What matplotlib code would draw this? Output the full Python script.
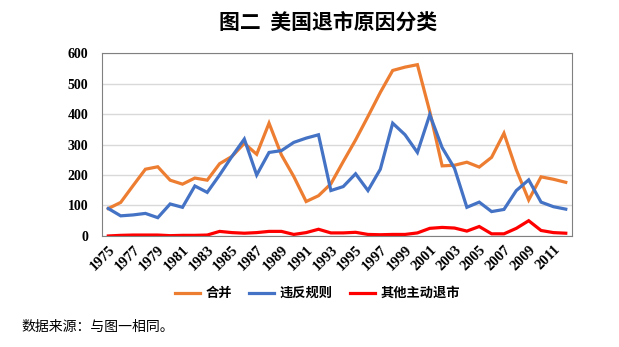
import matplotlib
matplotlib.use("Agg")
import matplotlib.pyplot as plt

plt.rcParams["font.family"] = ["Noto Sans CJK SC", "DejaVu Sans"]

years = list(range(1975, 2013))
merger = [90, 110, 165, 219, 227, 183, 170, 190, 183, 237, 261, 304, 268, 370,
          266, 195, 113, 132, 171, 244, 315, 392, 471, 543, 554, 562, 408, 230,
          232, 242, 226, 258, 337, 217, 118, 194, 186, 176]
violation = [90, 66, 69, 74, 60, 105, 94, 164, 143, 200, 261, 318, 200, 274,
             280, 307, 321, 332, 149, 162, 204, 149, 219, 370, 332, 274, 398,
             290, 222, 94, 111, 80, 87, 149, 184, 111, 96, 88]
voluntary = [0, 2, 3, 3, 3, 1, 2, 2, 3, 15, 11, 9, 11, 15, 15, 5, 11, 22, 10,
             10, 12, 5, 4, 5, 5, 10, 25, 28, 26, 16, 31, 7, 7, 25, 50, 18, 11, 9]

series_names = ["合并", "违反规则", "其他主动退市"]
colors = ["#ED7D31", "#4472C4", "#FF0000"]

fig = plt.figure(figsize=(6.19, 3.47), dpi=100)
ax = fig.add_axes([0.165, 0.320, 0.759, 0.527])

x = range(len(years))
for vals, name, c in zip([merger, violation, voluntary], series_names, colors):
    ax.plot(x, vals, color=c, linewidth=2.3, label=name, solid_joinstyle="miter")

# Aesthetics
ax.set_xlim(-0.5, len(years) - 0.5)
ax.set_ylim(0, 600)
ax.set_yticks(range(0, 601, 100))
ax.grid(axis="y", color="#D9D9D9", linewidth=1)
ax.set_axisbelow(True)
for s in ax.spines.values():
    s.set_color("#808080")
ax.tick_params(axis="y", length=0, pad=10)
ax.tick_params(axis="x", length=0, pad=5)
for lbl in ax.get_yticklabels():
    lbl.set_fontfamily("Liberation Serif")
    lbl.set_fontweight("bold")
    lbl.set_fontsize(10)

ax.set_xticks(list(x)[::2])
ax.set_xticklabels(
    [str(y) for y in years[::2]],
    rotation=45,
    ha="right",
    rotation_mode="anchor",
    fontsize=10.5,
    fontweight="bold",
    fontfamily="Liberation Serif",
)

fig.text(0.53, 0.935, "图二  美国退市原因分类", ha="center", va="center",
         fontsize=15, fontweight="bold")

fig.legend(loc="center", bbox_to_anchor=(0.513, 0.155), ncol=3, frameon=False,
           prop={"size": 9.5, "weight": "bold"}, handlelength=1.9,
           columnspacing=1.3, handletextpad=0.4)

fig.text(0.035, 0.057, "数据来源：与图一相同。", ha="left", va="center",
         fontsize=10)

fig.savefig("out.png", dpi=100)
